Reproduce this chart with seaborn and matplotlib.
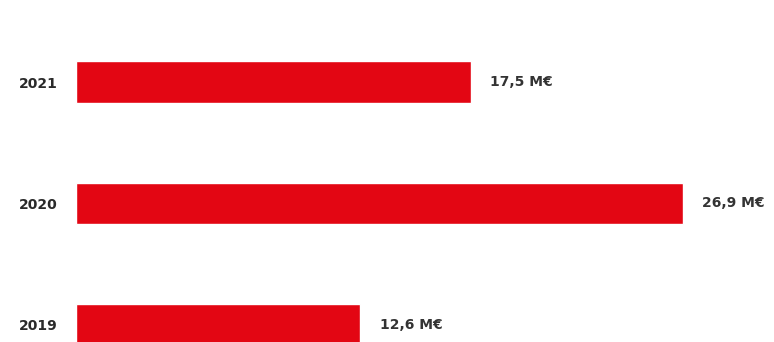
import matplotlib
matplotlib.use("Agg")
import matplotlib.pyplot as plt
import seaborn as sns
import pandas as pd

years = ["2021", "2020", "2019"]
revenue = [17.5, 26.9, 12.6]
value_labels = ["17,5 M€", "26,9 M€", "12,6 M€"]

sns.set_theme(style="white")
plt.rcParams["font.family"] = ["DejaVu Sans"]

df = pd.DataFrame({"year": years, "revenue": revenue})

fig = plt.figure(figsize=(7.74, 3.42), dpi=100)
ax = fig.add_axes([76 / 774, 0, 698 / 774, 1])

sns.barplot(data=df, x="revenue", y="year", orient="h", order=years,
            color="#e30613", saturation=1, width=0.34, ax=ax)

ax.set_xlim(0, 30.93)
ax.set_ylim(2.14, -0.675)
ax.set_xlabel("")
ax.set_ylabel("")
ax.set_xticks([])
sns.despine(ax=ax, left=True, bottom=True)
ax.tick_params(axis="y", length=0, pad=13.5)
for lbl in ax.get_yticklabels():
    lbl.set_fontsize(10)
    lbl.set_fontweight("bold")
    lbl.set_color("#2a2a2a")

for i, (v, txt) in enumerate(zip(revenue, value_labels)):
    ax.annotate(txt, xy=(v, i), xytext=(14, 0), textcoords="offset points",
                va="center", ha="left", fontsize=10, fontweight="bold",
                color="#333333")

fig.savefig("out.png", dpi=100)
